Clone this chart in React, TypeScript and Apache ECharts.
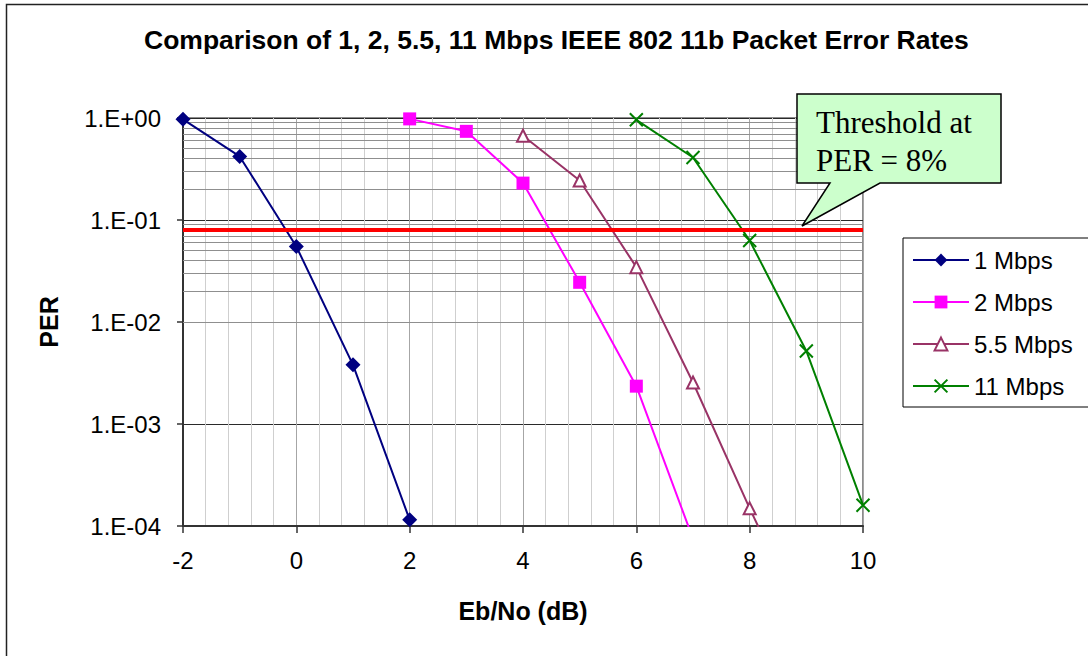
import React, { useEffect, useRef } from "react";
import * as echarts from "echarts";

// ---- Data ----
const seriesNames = ["1 Mbps", "2 Mbps", "5.5 Mbps", "11 Mbps"];
const ebno1 = [-2, -1, 0, 1, 2];
const per1 = [0.97, 0.42, 0.055, 0.0038, 0.000115];
const ebno2 = [2, 3, 4, 5, 6, 7];
const per2 = [0.98, 0.74, 0.23, 0.0245, 0.00235, 0.000075];
const ebno55 = [4, 5, 6, 7, 8, 9];
const per55 = [0.67, 0.244, 0.0345, 0.00255, 0.000149, 0.00001];
const ebno11 = [6, 7, 8, 9, 10];
const per11 = [0.96, 0.41, 0.063, 0.0052, 0.00016];
const thresholdPER = 0.08;
const yTickLabels = ["1.E-04", "1.E-03", "1.E-02", "1.E-01", "1.E+00"];
const decadeStarts = [1e-4, 1e-3, 1e-2, 1e-1];
const minorMultipliers = [2, 3, 4, 5, 6, 7, 8, 9];

const SANS = "Liberation Sans, Arial, sans-serif";
const SERIF = "Liberation Serif, Times New Roman, serif";

const zip = (xs: number[], ys: number[]) => xs.map((x, i) => [x, ys[i]]);

export default function App() {
  const ref = useRef<HTMLDivElement>(null);

  useEffect(() => {
    if (!ref.current) return;
    const chart = echarts.init(ref.current, undefined, { renderer: "svg" });

    const minorLines: any[] = [];
    decadeStarts.forEach((d) =>
      minorMultipliers.forEach((m) => minorLines.push({ yAxis: d * m }))
    );

    const lineSeries = (
      name: string,
      data: number[][],
      color: string,
      symbol: string,
      symbolSize: number,
      itemStyle: any
    ) => ({
      name,
      type: "line",
      data,
      symbol,
      symbolSize,
      clip: true,
      z: 3,
      lineStyle: { color, width: 2 },
      itemStyle,
      emphasis: { disabled: true },
    });

    const option: any = {
      animation: false,
      backgroundColor: "#fff",
      title: {
        text: "Comparison of 1, 2, 5.5, 11 Mbps IEEE 802 11b Packet Error Rates",
        left: 144,
        top: 26,
        padding: 0,
        textStyle: { fontFamily: SANS, fontSize: 26.5, fontWeight: "bold", color: "#000" },
      },
      grid: {
        left: 183,
        right: 225,
        top: 118,
        bottom: 130,
        show: true,
        borderColor: "#8c8c8c",
        borderWidth: 2,
        backgroundColor: "transparent",
      },
      legend: {
        data: seriesNames,
        orient: "vertical",
        left: 903,
        top: 238,
        itemWidth: 56,
        itemHeight: 16,
        itemGap: 18,
        padding: [10, 40, 9, 9],
        borderColor: "#000",
        borderWidth: 1,
        backgroundColor: "#fff",
        textStyle: { fontFamily: SANS, fontSize: 24, color: "#000" },
      },
      xAxis: {
        type: "value",
        min: -2,
        max: 10,
        interval: 2,
        name: "Eb/No (dB)",
        nameLocation: "middle",
        nameGap: 72,
        nameTextStyle: { fontFamily: SANS, fontSize: 25, fontWeight: "bold", color: "#000" },
        axisLine: { show: true, onZero: false, lineStyle: { color: "#333", width: 2 } },
        axisTick: { show: true, length: 7, lineStyle: { color: "#333", width: 1.5 } },
        axisLabel: { fontFamily: SANS, fontSize: 24, color: "#000", margin: 22 },
        splitLine: { show: true, lineStyle: { color: "#a6a6a6", width: 1 } },
        minorTick: { show: false, splitNumber: 5 },
        minorSplitLine: { show: true, lineStyle: { color: "#cfcfcf", width: 1 } },
      },
      yAxis: {
        type: "log",
        logBase: 10,
        min: 1e-4,
        max: 1,
        name: "PER",
        nameLocation: "middle",
        nameGap: 122,
        nameTextStyle: { fontFamily: SANS, fontSize: 25, fontWeight: "bold", color: "#000" },
        axisLine: { show: true, onZero: false, lineStyle: { color: "#333", width: 2 } },
        axisTick: { show: true, length: 6, lineStyle: { color: "#333", width: 1.5 } },
        axisLabel: {
          fontFamily: SANS,
          fontSize: 24,
          color: "#000",
          margin: 22,
          formatter: (v: number) => yTickLabels[Math.round(Math.log10(v)) + 4] ?? "",
        },
        splitLine: { show: true, lineStyle: { color: "#2a2a2a", width: 1 } },
      },
      series: [
        {
          name: "minor-grid",
          type: "line",
          data: [],
          silent: true,
          z: 1,
          markLine: {
            silent: true,
            symbol: "none",
            z: 1,
            label: { show: false },
            lineStyle: { color: "#8f8f8f", width: 1, type: "solid" },
            emphasis: { disabled: true },
            data: minorLines,
          },
        },
        {
          name: "threshold",
          type: "line",
          data: [],
          silent: true,
          z: 4,
          markLine: {
            silent: true,
            symbol: "none",
            z: 4,
            label: { show: false },
            lineStyle: { color: "#ff0000", width: 4, type: "solid" },
            emphasis: { disabled: true },
            data: [{ yAxis: thresholdPER }],
          },
        },
        lineSeries(seriesNames[0], zip(ebno1, per1), "#000080", "diamond", 15, {
          color: "#000080",
        }),
        lineSeries(seriesNames[1], zip(ebno2, per2), "#ff00ff", "rect", 13, {
          color: "#ff00ff",
        }),
        lineSeries(seriesNames[2], zip(ebno55, per55), "#993366", "emptyTriangle", 12, {
          color: "#993366",
          borderColor: "#993366",
          borderWidth: 2,
        }),
        lineSeries(
          seriesNames[3],
          zip(ebno11, per11),
          "#008000",
          "path://M0 0L10 10M10 0L0 10",
          13,
          { color: "#008000", borderColor: "#008000", borderWidth: 2 }
        ),
      ],
      graphic: [
        {
          type: "rect",
          z: 0,
          silent: true,
          shape: { x: 6.5, y: 4.5, width: 1120, height: 700 },
          style: { fill: "none", stroke: "#222", lineWidth: 1.5 },
        },
        {
          type: "polygon",
          z: 10,
          silent: true,
          shape: {
            points: [
              [797, 94],
              [1001, 94],
              [1001, 183],
              [880, 183],
              [802, 226],
              [830, 183],
              [797, 183],
            ],
          },
          style: { fill: "#ccffcc", stroke: "#000", lineWidth: 1.5 },
        },
        {
          type: "text",
          z: 11,
          silent: true,
          x: 816,
          y: 103,
          style: {
            text: "Threshold at\nPER = 8%",
            fontFamily: SERIF,
            fontSize: 31,
            lineHeight: 38,
            fill: "#000",
            align: "left",
            verticalAlign: "top",
          },
        },
      ],
    };

    chart.setOption(option);
    return () => chart.dispose();
  }, []);

  return (
    <div
      ref={ref}
      style={{ position: "absolute", left: 0, top: 0, width: 1088, height: 656 }}
    />
  );
}
